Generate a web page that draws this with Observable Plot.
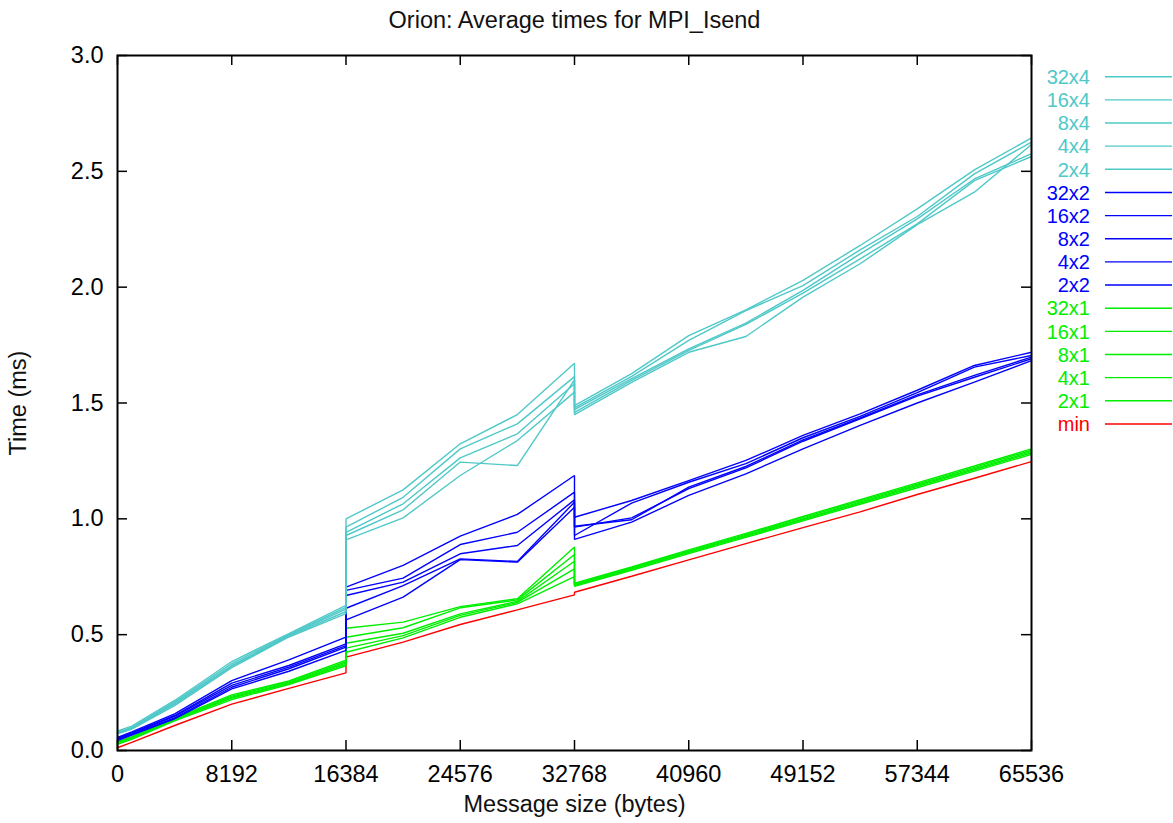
<!DOCTYPE html>
<html>
<head>
<meta charset="utf-8">
<script src="https://cdn.jsdelivr.net/npm/d3@7"></script>
<script src="https://cdn.jsdelivr.net/npm/@observablehq/plot@0.6"></script>
<style>
  body { margin: 0; background: #fff; }
  svg { display: block; }
</style>
</head>
<body>
<div id="chart"></div>
<script>
// ---- data ----
const title = "Orion: Average times for MPI_Isend";
const xLabel = "Message size (bytes)";
const yLabel = "Time (ms)";

const sizes = [0, 1024, 4096, 8192, 12288, 16383, 16384, 20480, 24576, 28672, 32767, 32768,
               36864, 40960, 45056, 49152, 53248, 57344, 61440, 65536];

const xTicks = [0, 8192, 16384, 24576, 32768, 40960, 49152, 57344, 65536];
const yTicks = [0, 0.5, 1.0, 1.5, 2.0, 2.5, 3.0];

const seriesNames = ["32x4", "16x4", "8x4", "4x4", "2x4",
                     "32x2", "16x2", "8x2", "4x2", "2x2",
                     "32x1", "16x1", "8x1", "4x1", "2x1", "min"];
const seriesColors = ["#4fc8c8", "#4fc8c8", "#4fc8c8", "#4fc8c8", "#4fc8c8",
                      "#0000ff", "#0000ff", "#0000ff", "#0000ff", "#0000ff",
                      "#00ee00", "#00ee00", "#00ee00", "#00ee00", "#00ee00", "#ff0000"];

const t32x4 = [0.085, 0.105, 0.216, 0.384, 0.505, 0.626, 1.000, 1.125, 1.324, 1.450, 1.672, 1.489, 1.627, 1.791, 1.902, 2.029, 2.180, 2.338, 2.506, 2.644];
const t16x4 = [0.080, 0.100, 0.210, 0.375, 0.500, 0.618, 0.964, 1.093, 1.302, 1.410, 1.614, 1.479, 1.615, 1.770, 1.899, 2.007, 2.161, 2.305, 2.489, 2.626];
const t8x4  = [0.077, 0.097, 0.205, 0.367, 0.497, 0.610, 0.942, 1.065, 1.263, 1.367, 1.583, 1.471, 1.605, 1.734, 1.845, 1.986, 2.144, 2.295, 2.467, 2.576];
const t4x4  = [0.074, 0.094, 0.200, 0.363, 0.494, 0.600, 0.928, 1.039, 1.245, 1.230, 1.600, 1.460, 1.598, 1.727, 1.839, 1.974, 2.122, 2.273, 2.460, 2.564];
const t2x4  = [0.072, 0.092, 0.194, 0.358, 0.490, 0.591, 0.909, 1.004, 1.187, 1.338, 1.547, 1.450, 1.589, 1.719, 1.787, 1.957, 2.101, 2.270, 2.410, 2.616];

const t32x2 = [0.057, 0.080, 0.158, 0.302, 0.391, 0.489, 0.705, 0.799, 0.925, 1.019, 1.187, 1.007, 1.079, 1.165, 1.252, 1.360, 1.453, 1.555, 1.662, 1.719];
const t16x2 = [0.053, 0.076, 0.151, 0.291, 0.367, 0.460, 0.691, 0.744, 0.889, 0.942, 1.115, 0.968, 0.996, 1.137, 1.226, 1.341, 1.436, 1.535, 1.619, 1.698];
const t8x2  = [0.050, 0.073, 0.147, 0.281, 0.360, 0.453, 0.669, 0.727, 0.849, 0.885, 1.082, 0.964, 1.004, 1.130, 1.220, 1.335, 1.432, 1.530, 1.611, 1.691];
const t4x2  = [0.047, 0.070, 0.141, 0.273, 0.353, 0.446, 0.614, 0.712, 0.827, 0.816, 1.072, 0.928, 1.068, 1.158, 1.238, 1.350, 1.442, 1.545, 1.655, 1.705];
const t2x2  = [0.043, 0.066, 0.137, 0.266, 0.342, 0.432, 0.564, 0.662, 0.824, 0.813, 1.050, 0.911, 0.986, 1.101, 1.194, 1.302, 1.403, 1.500, 1.590, 1.683];

const t32x1 = [0.038, 0.060, 0.140, 0.240, 0.300, 0.390, 0.528, 0.554, 0.621, 0.655, 0.878, 0.722, 0.792, 0.866, 0.937, 1.010, 1.083, 1.155, 1.228, 1.302];
const t16x1 = [0.035, 0.057, 0.137, 0.235, 0.296, 0.383, 0.489, 0.530, 0.616, 0.650, 0.846, 0.718, 0.789, 0.862, 0.933, 1.005, 1.078, 1.150, 1.222, 1.296];
const t8x1  = [0.032, 0.054, 0.134, 0.230, 0.292, 0.377, 0.463, 0.506, 0.590, 0.644, 0.817, 0.715, 0.785, 0.858, 0.928, 1.000, 1.072, 1.145, 1.217, 1.290];
const t4x1  = [0.030, 0.051, 0.131, 0.226, 0.289, 0.372, 0.442, 0.496, 0.583, 0.639, 0.784, 0.712, 0.782, 0.854, 0.924, 0.996, 1.068, 1.140, 1.212, 1.284];
const t2x1  = [0.027, 0.048, 0.128, 0.220, 0.285, 0.366, 0.424, 0.486, 0.575, 0.633, 0.751, 0.709, 0.778, 0.850, 0.920, 0.991, 1.063, 1.134, 1.206, 1.278];

const tMin  = [0.012, 0.035, 0.108, 0.200, 0.268, 0.335, 0.403, 0.468, 0.544, 0.607, 0.672, 0.683, 0.752, 0.823, 0.893, 0.962, 1.030, 1.105, 1.175, 1.247];

// ---- build the table ----
const seriesValues = [t32x4, t16x4, t8x4, t4x4, t2x4, t32x2, t16x2, t8x2, t4x2, t2x2,
                      t32x1, t16x1, t8x1, t4x1, t2x1, tMin];
const rows = [];
seriesNames.forEach((name, k) => {
  seriesValues[k].forEach((v, i) => rows.push({series: name, size: sizes[i], time: v}));
});
rows.sort((a, b) => seriesNames.indexOf(b.series) - seriesNames.indexOf(a.series));

// ---- layout ----
const W = 1173, H = 823;
const mL = 117, mR = 142, mT = 55, mB = 73;
const innerW = W - mL - mR, innerH = H - mT - mB;
const tickLen = 10;
const fs = 23.5;
const legendFs = 20;
const font = "'Liberation Sans', Arial, Helvetica, sans-serif";

const plot = Plot.plot({
  width: W, height: H,
  marginLeft: mL, marginRight: mR, marginTop: mT, marginBottom: mB,
  style: {fontFamily: font, fontSize: fs + "px", color: "#000", background: "#fff"},
  x: {domain: [0, 65536]},
  y: {domain: [0, 3]},
  color: {domain: seriesNames, range: seriesColors},
  marks: [
    Plot.line(rows, {x: "size", y: "time", z: "series", stroke: "series", strokeWidth: 1.4, strokeLinejoin: "miter"}),
    // inward ticks on all four sides
    Plot.tickX(xTicks, {x: d => d, insetTop: innerH - tickLen, stroke: "#000", strokeWidth: 1.5}),
    Plot.tickX(xTicks, {x: d => d, insetBottom: innerH - tickLen, stroke: "#000", strokeWidth: 1.5}),
    Plot.tickY(yTicks, {y: d => d, insetRight: innerW - tickLen, stroke: "#000", strokeWidth: 1.5}),
    Plot.tickY(yTicks, {y: d => d, insetLeft: innerW - tickLen, stroke: "#000", strokeWidth: 1.5}),
    Plot.axisX({ticks: xTicks, tickSize: 0, tickPadding: 15, label: null, fontSize: fs, tickFormat: d => String(d)}),
    Plot.axisY({ticks: yTicks, tickSize: 0, tickPadding: 14, label: null, fontSize: fs, tickFormat: d3.format(".1f")}),
    Plot.frame({stroke: "#000", strokeWidth: 2}),
    Plot.text([title], {frameAnchor: "top", lineAnchor: "middle", textAnchor: "middle", dy: -35, fontSize: fs, fill: "#111"}),
    Plot.text([xLabel], {frameAnchor: "bottom", lineAnchor: "middle", textAnchor: "middle", dy: 54, fontSize: fs, fill: "#111"}),
    Plot.text([yLabel], {frameAnchor: "left", lineAnchor: "middle", textAnchor: "middle", dx: -99, rotate: -90, fontSize: fs, fill: "#111"})
  ]
});

// ---- legend (right side), colours taken from Plot's colour scale ----
const color = plot.scale("color");
const svg = d3.select(plot);
const lg = svg.append("g").attr("font-family", font).attr("font-size", legendFs);
const legendTop = 76.7, legendStep = 23.15;
seriesNames.forEach((name, i) => {
  const y = legendTop + i * legendStep;
  const c = color.apply(name);
  lg.append("text")
    .attr("x", 1090).attr("y", y).attr("dy", "0.36em")
    .attr("text-anchor", "end").attr("fill", c).text(name);
  lg.append("line")
    .attr("x1", 1105).attr("x2", 1172).attr("y1", y).attr("y2", y)
    .attr("stroke", c).attr("stroke-width", 1.4);
});

document.getElementById("chart").appendChild(plot);
</script>
</body>
</html>
